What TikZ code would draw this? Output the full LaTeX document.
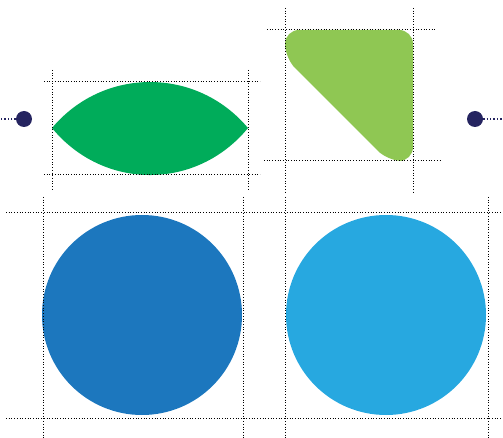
\documentclass[tikz,border=0pt]{standalone}
\begin{document}
\begin{tikzpicture}[x=1pt,y=-1pt,
  guide/.style={draw=black, line width=1pt, dash pattern=on 1pt off 1.7pt},
  link/.style={draw=navy, line width=1.4pt, dash pattern=on 1.4pt off 2pt},
  bead/.style={circle, fill=navy, minimum size=16pt, inner sep=0pt}]
\definecolor{lensgreen}{RGB}{0,172,90}
\definecolor{trigreen}{RGB}{143,199,83}
\definecolor{darkblue}{RGB}{28,119,190}
\definecolor{skyblue}{RGB}{39,168,224}
\definecolor{navy}{RGB}{37,36,96}
\useasboundingbox (0,0) rectangle (503,438);
\clip (0,0) rectangle (503,438);
% shapes
\fill[lensgreen] (52,128) .. controls (103.5,66.7) and (196.5,66.7) .. (248,128)
  .. controls (196.5,190.7) and (103.5,190.7) .. (52,128) -- cycle;
\fill[trigreen, rounded corners=14pt] (285,30) -- (413,30) -- (413,161) -- (388,161) -- (285,58) -- cycle;
\fill[darkblue] (142,315) circle (100);
\fill[skyblue] (386,315) circle (100);
% guides lens
\draw[guide] (52,70) -- (52,191);
\draw[guide] (248,70) -- (248,191);
\draw[guide] (44,82) -- (260,82);
\draw[guide] (44,175) -- (260,175);
% guides triangle
\draw[guide] (285,8) -- (285,192);
\draw[guide] (413,8) -- (413,192);
\draw[guide] (267,30) -- (437,30);
\draw[guide] (264,161) -- (440,161);
% guides circles
\draw[guide] (43,197) -- (43,438);
\draw[guide] (243,197) -- (243,438);
\draw[guide] (285,197) -- (285,438);
\draw[guide] (488,197) -- (488,438);
\draw[guide] (6,213) -- (502,213);
\draw[guide] (6,418) -- (502,418);
% beads
\node[bead] (bl) at (24,119) {};
\node[bead] (br) at (475,119) {};
\coordinate (el) at (0,119);
\coordinate (er) at (503,119);
\draw[link] (bl.west) -- (el);
\draw[link] (br.east) -- (er);
\end{tikzpicture}
\end{document}
